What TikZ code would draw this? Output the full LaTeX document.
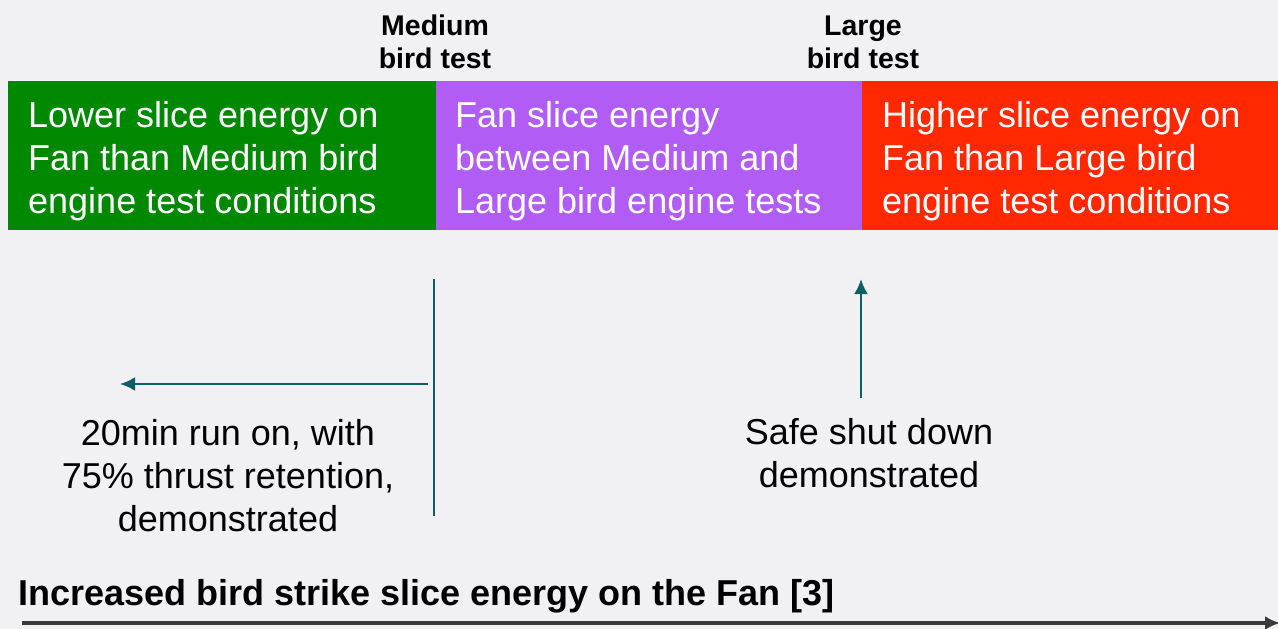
\documentclass[tikz,border=0pt]{standalone}
\usepackage{fontspec}
\setmainfont{Liberation Sans}
\usetikzlibrary{arrows.meta}
\definecolor{bggray}{HTML}{F1F1F3}
\definecolor{fangreen}{HTML}{008800}
\definecolor{fanpurple}{HTML}{B05CF5}
\definecolor{fanred}{HTML}{FF2800}
\definecolor{lineteal}{HTML}{0D5F66}
\definecolor{axisgray}{HTML}{3A3A3A}
\begin{document}
\begin{tikzpicture}[x=1pt,y=-1pt,line join=round,>={Latex[length=15pt,width=14pt]},
  boxtxt/.style={text=white,align=left,anchor=west,inner sep=0pt,font=\fontsize{36}{43}\selectfont},
  toptxt/.style={align=center,inner sep=0pt,font=\fontsize{28.5}{33}\selectfont\bfseries},
  notetxt/.style={align=center,inner sep=0pt,font=\fontsize{36}{43}\selectfont}]
\useasboundingbox (0,0) rectangle (1278,629);
\fill[bggray](0,0) rectangle (1278,629);
\fill[fangreen](8,81) rectangle (436,230);
\fill[fanpurple](436,81) rectangle (862,230);
\fill[fanred](862,81) rectangle (1278,230);

\node[boxtxt] (Blow) at (28,161.5) {Lower slice energy on\\Fan than Medium bird\\engine test conditions};
\node[boxtxt] (Bmid) at (455,161.5) {Fan slice energy\\between Medium and\\Large bird engine tests};
\node[boxtxt] (Bhigh) at (882,161.5) {Higher slice energy on\\Fan than Large bird\\engine test conditions};
\node[toptxt] (Tmed) at (435,42) {Medium\\bird test};
\node[toptxt] (Tlarge) at (863,42.5) {Large\\bird test};
\node[notetxt] (Nrun) at (228,476) {20min run on, with\\75\% thrust retention,\\demonstrated};
\node[notetxt] (Nshut) at (869,453) {Safe shut down\\demonstrated};
\node[anchor=base west,inner sep=0pt,font=\fontsize{36}{43}\selectfont\bfseries] (Ttitle) at (18,605) {Increased bird strike slice energy on the Fan [3]};

\coordinate (Vtop) at (434,279);
\coordinate (Vbot) at (434,516);
\coordinate (Lstart) at (428,384);
\coordinate (Lend) at (120,384);
\coordinate (Ustart) at (861,398);
\coordinate (Uend) at (861,279);
\coordinate (Astart) at (22,623);
\coordinate (Aend) at (1280,623);
\draw[lineteal,line width=1.8pt](Vtop)--(Vbot);
\draw[lineteal,line width=2.5pt,->](Lstart)--(Lend);
\draw[lineteal,line width=2.5pt,->](Ustart)--(Uend);
\draw[axisgray,line width=3.5pt,->](Astart)--(Aend);
\end{tikzpicture}
\end{document}
